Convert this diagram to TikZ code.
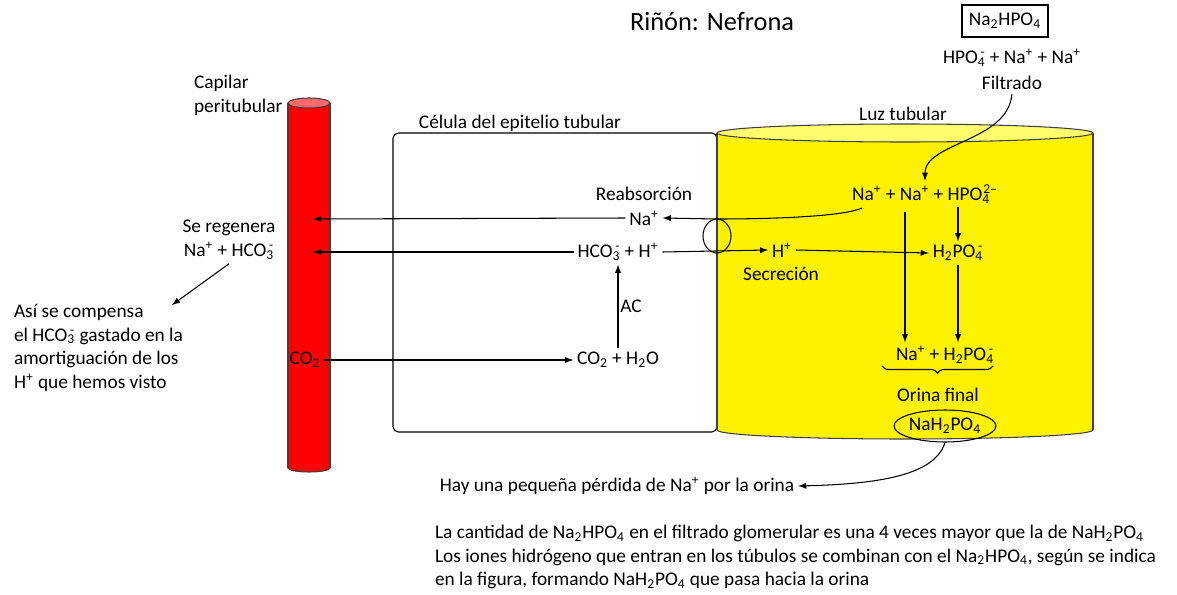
\documentclass[tikz,border=0pt]{standalone}
\usepackage{fontspec}
\setmainfont{Carlito}
\usetikzlibrary{shapes.geometric,decorations.pathreplacing}
\definecolor{capTop}{RGB}{255,105,105}
\definecolor{lumTop}{RGB}{255,255,110}
\newcommand\ionm[1]{\textsubscript{#1}\llap{\textsuperscript{-}}}

\begin{document}
\begin{tikzpicture}[x=0.02cm,y=-0.02cm,line width=0.6pt,
    every node/.style={font=\fontsize{11}{13.6}\selectfont,inner sep=2pt},
    arr/.style={-latex},
    wall/.style={draw=black!75}]
    \useasboundingbox (0,0) rectangle (1177,595);
    % capilar peritubular
    \filldraw[fill=red,wall] (309,468) ellipse [x radius=21,y radius=4];
    \fill[red] (288,103) rectangle (330,468);
    \draw[wall] (288,103) -- (288,468) (330,103) -- (330,468);
    \filldraw[fill=capTop,wall] (309,103) ellipse [x radius=21,y radius=5];
    % celula y luz tubular
    \draw[rounded corners=3pt] (393,133) rectangle (717,432);
    \filldraw[fill=yellow,wall] (905,430) ellipse [x radius=188,y radius=9];
    \fill[yellow] (717,133) rectangle (1093,430);
    \draw[wall] (717,133) -- (717,430) (1093,133) -- (1093,430);
    \filldraw[fill=lumTop,wall] (905,133) ellipse [x radius=188,y radius=9];

    \node (title) at (712,22) {\fontsize{15}{18}\selectfont Riñón: Nefrona};
    \node[draw,minimum width=1.72cm,minimum height=0.64cm] (salt) at (1005,21) {Na\textsubscript{2}HPO\textsubscript{4}};
    \node (ions) at (1012,58) {HPO\ionm{4} + Na\textsuperscript{+} + Na\textsuperscript{+}};
    \node (filt) at (1012,83) {Filtrado};
    \node (luz) at (903,114) {Luz tubular};
    \node (cel) at (520,123) {Célula del epitelio tubular};
    \node[align=left,anchor=west] (cap) at (190,95) {Capilar\\peritubular};
    \node (reab) at (644,194) {Reabsorción};
    \node (naC) at (644,218) {Na\textsuperscript{+}};
    \node (hco) at (618,252) {HCO\ionm{3} + H\textsuperscript{+}};
    \node (co2h) at (618,360) {CO\textsubscript{2} + H\textsubscript{2}O};
    \node (co2) at (305,360) {CO\textsubscript{2}};
    \node (lum) at (925,194) {Na\textsuperscript{+} + Na\textsuperscript{+} + HPO\textsubscript{\rlap{4}}\textsuperscript{2–}};
    \node (hS) at (782,250) {H\textsuperscript{+}};
    \node (secr) at (781,274) {Secreción};
    \node (h2po) at (958,253) {H\textsubscript{2}PO\ionm{4}};
    \node (fin) at (945,355) {Na\textsuperscript{+} + H\textsubscript{2}PO\ionm{4}};
    \node (orina) at (938,395) {Orina final};
    \node[ellipse,draw,inner sep=0pt,minimum width=1.92cm,minimum height=0.64cm] (nah) at (945,426) {NaH\textsubscript{2}PO\textsubscript{4}};
    \node (perd) at (617,486) {Hay una pequeña pérdida de Na\textsuperscript{+} por la orina};
    \node[align=center] (reg) at (229,240) {Se regenera\\Na\textsuperscript{+} + HCO\ionm{3}};
    \node[align=left,anchor=west] (comp) at (10,348) {Así se compensa\\el HCO\ionm{3} gastado en la\\amortiguación de los\\H\textsuperscript{+} que hemos visto};
    \node[align=left,anchor=west] (nota) at (431,557) {La cantidad de Na\textsubscript{2}HPO\textsubscript{4} en el filtrado glomerular es una 4 veces mayor que la de NaH\textsubscript{2}PO\textsubscript{4}\\Los iones hidrógeno que entran en los túbulos se combinan con el Na\textsubscript{2}HPO\textsubscript{4}, según se indica\\en la figura, formando NaH\textsubscript{2}PO\textsubscript{4} que pasa hacia la orina};

    \coordinate (capNa) at (313,219);
    \coordinate (capH) at (313,252);
    \coordinate (memb) at (717,219);
    \coordinate (lumL) at (862,208);
    \coordinate (naLine) at (905,212);
    \coordinate (compTip) at (172,305);

    \draw[arr] (naC.west) -- (capNa);
    \draw[arr] (hco.west) -- (capH);
    \draw[arr] (hco.east) -- (hS.west);
    \draw[arr] (hS.east) -- (h2po.west);
    \draw[arr] (co2.east) -- (co2h.west);
    \draw[arr] (co2h.north) -- node[right,inner sep=1pt]{AC} (hco.south);
    \draw[arr] (lumL) .. controls (845,216) and (780,219) .. (memb) -- (naC.east);
    \draw (717,236) ellipse [x radius=14,y radius=17];
    \draw[arr] (filt.south) .. controls (1008,142) and (925,142) .. (lum.north);
    \draw[arr] (lum.south -| h2po) -- (h2po.north);
    \draw[arr] (naLine) -- (naLine |- fin.north);
    \draw[arr] (h2po.south) -- (h2po.south |- fin.north);
    \draw[decorate,decoration={brace,amplitude=4pt}] (993,366) -- (882,366);
    \draw[arr] (nah.south) .. controls (935,475) and (880,484) .. (perd.east);
    \draw[arr] (reg.south) -- (compTip);
\end{tikzpicture}
\end{document}
